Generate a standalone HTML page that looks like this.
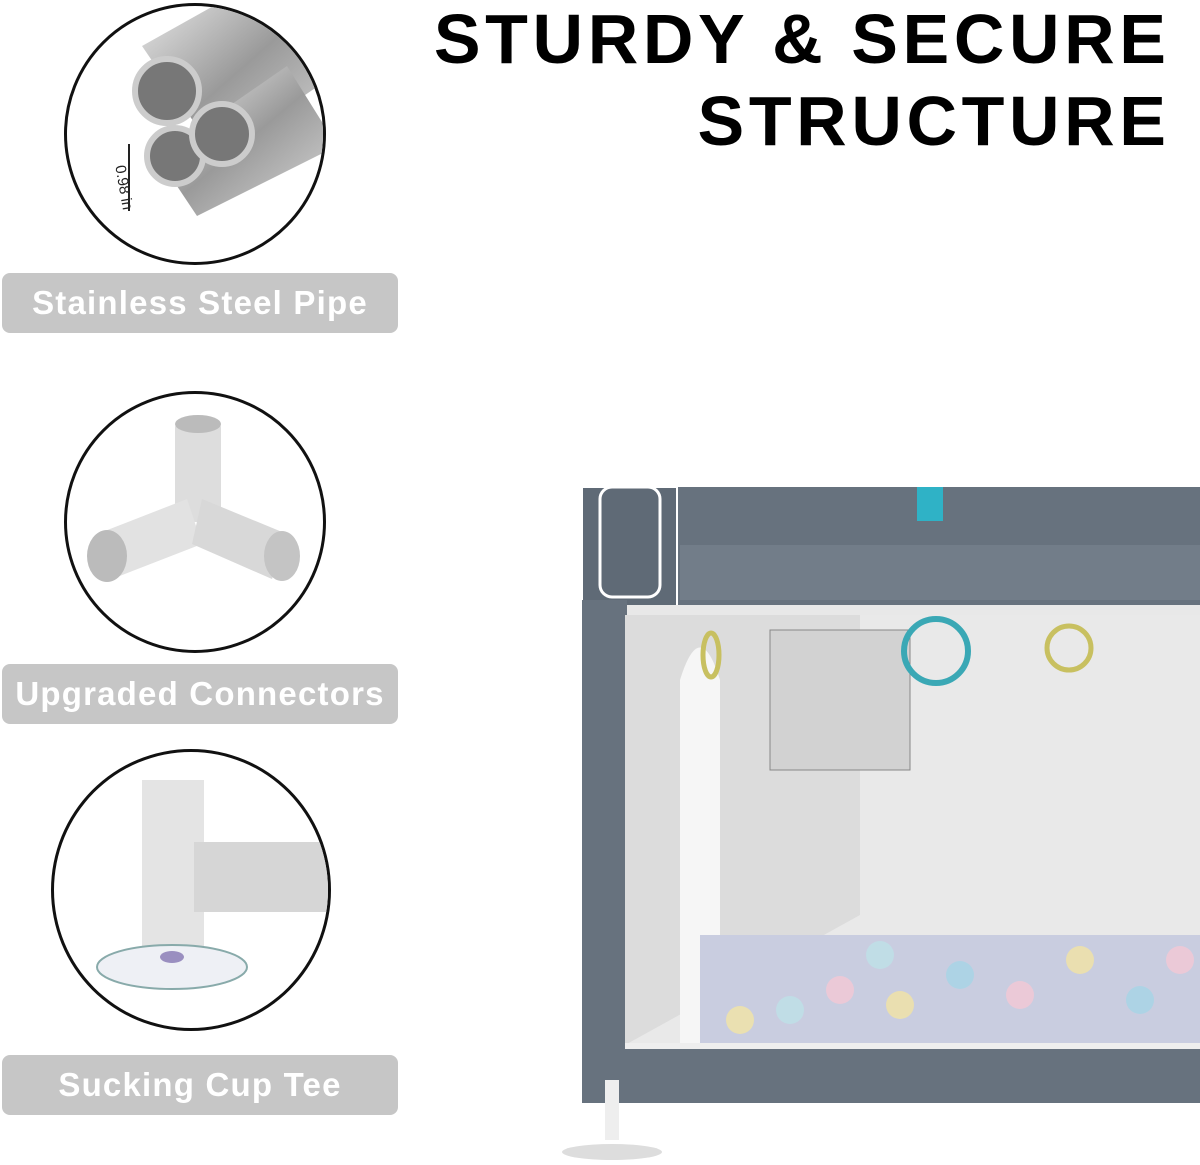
<!DOCTYPE html>
<html><head><meta charset="utf-8"><style>
html,body{margin:0;padding:0;background:#fff;}
body{width:1200px;height:1165px;position:relative;overflow:hidden;font-family:"Liberation Sans",Arial,sans-serif;}
.title{position:absolute;right:34px;font-weight:bold;font-size:70px;color:#000;line-height:1;letter-spacing:4.6px;margin-right:-4.6px;text-align:right;white-space:nowrap;}
.circ{position:absolute;border:3px solid #111;border-radius:50%;box-sizing:border-box;background:#fff;overflow:hidden;}
.lab{position:absolute;left:2px;width:396px;height:60px;background:#c6c6c6;border-radius:8px;color:#fff;font-weight:bold;font-size:33px;text-align:center;line-height:60px;letter-spacing:1.2px;white-space:nowrap;}
</style></head><body>
<div class="title" style="top:4px">STURDY &amp; SECURE</div>
<div class="title" style="top:86px">STRUCTURE</div>

<div class="circ" style="left:64px;top:3px;width:262px;height:262px">
<svg width="256" height="256" viewBox="0 0 256 256">
<defs><linearGradient id="g1" x1="0" y1="0" x2="1" y2="1"><stop offset="0" stop-color="#f2f2f2"/><stop offset=".5" stop-color="#9a9a9a"/><stop offset="1" stop-color="#dcdcdc"/></linearGradient></defs>
<path d="M75 40 L200 -30 L280 60 L150 150 Z" fill="url(#g1)"/>
<path d="M90 150 L220 60 L270 140 L130 210 Z" fill="url(#g1)"/>
<circle cx="100" cy="85" r="32" fill="#777" stroke="#ccc" stroke-width="6"/>
<circle cx="108" cy="150" r="28" fill="#777" stroke="#ccc" stroke-width="6"/>
<circle cx="155" cy="128" r="30" fill="#777" stroke="#ccc" stroke-width="6"/>
<line x1="62" y1="138" x2="62" y2="205" stroke="#222" stroke-width="2"/>
<text x="40" y="170" font-size="15" transform="rotate(80 50 170)" fill="#222">0.98 in</text>
</svg></div>
<div class="lab" style="top:273px">Stainless Steel Pipe</div>

<div class="circ" style="left:64px;top:391px;width:262px;height:262px">
<svg width="256" height="256" viewBox="0 0 256 256">
<rect x="108" y="28" width="46" height="100" rx="6" fill="#ddd"/>
<ellipse cx="131" cy="30" rx="23" ry="9" fill="#bbb"/>
<path d="M30 140 L120 105 L135 150 L45 185 Z" fill="#e2e2e2"/>
<path d="M135 105 L220 140 L205 185 L125 150 Z" fill="#d8d8d8"/>
<ellipse cx="40" cy="162" rx="20" ry="26" fill="#bbb"/>
<ellipse cx="215" cy="162" rx="18" ry="25" fill="#c4c4c4"/>
</svg></div>
<div class="lab" style="top:664px">Upgraded Connectors</div>

<div class="circ" style="left:51px;top:749px;width:280px;height:282px">
<svg width="274" height="276" viewBox="0 0 274 276">
<rect x="88" y="28" width="62" height="170" fill="#e4e4e4"/>
<rect x="140" y="90" width="140" height="70" fill="#d6d6d6"/>
<ellipse cx="118" cy="215" rx="75" ry="22" fill="#eef0f5" stroke="#8aa" stroke-width="2"/>
<ellipse cx="118" cy="205" rx="12" ry="6" fill="#9a8fc0"/>
</svg></div>
<div class="lab" style="top:1055px">Sucking Cup Tee</div>

<svg style="position:absolute;left:560px;top:480px" width="640" height="685" viewBox="560 480 640 685">
<rect x="582" y="487" width="620" height="125" fill="#67727e"/>
<rect x="680" y="545" width="520" height="55" fill="#727d89"/>
<rect x="582" y="487" width="95" height="125" fill="#5f6a76" stroke="#fff" stroke-width="2"/>
<rect x="600" y="487" width="60" height="110" rx="12" fill="none" stroke="#fff" stroke-width="3"/>
<rect x="917" y="487" width="26" height="34" fill="#2fb2c6"/>
<rect x="625" y="605" width="575" height="10" fill="#e8e8e8"/>
<rect x="582" y="600" width="45" height="460" fill="#67727e"/>
<rect x="625" y="615" width="575" height="430" fill="#e9e9e9"/>
<path d="M625 615 L860 615 L860 915 L625 1045 Z" fill="#dcdcdc"/>
<path d="M680 680 Q700 615 720 680 L720 1045 L680 1045 Z" fill="#f6f6f6"/>
<rect x="770" y="630" width="140" height="140" fill="#d2d2d2" stroke="#888"/>
<circle cx="936" cy="651" r="32" fill="none" stroke="#3aa8b5" stroke-width="6"/>
<circle cx="1069" cy="648" r="22" fill="none" stroke="#c8c060" stroke-width="5"/>
<ellipse cx="711" cy="655" rx="8" ry="22" fill="none" stroke="#c8c060" stroke-width="5"/>
<rect x="700" y="935" width="500" height="110" fill="#c9cde0"/>
<g opacity=".85">
<circle cx="740" cy="1020" r="14" fill="#f0e3a8"/><circle cx="790" cy="1010" r="14" fill="#bfe0e8"/>
<circle cx="840" cy="990" r="14" fill="#f1c9d6"/><circle cx="900" cy="1005" r="14" fill="#f0e3a8"/>
<circle cx="960" cy="975" r="14" fill="#a9d5e6"/><circle cx="1020" cy="995" r="14" fill="#f1c9d6"/>
<circle cx="1080" cy="960" r="14" fill="#f0e3a8"/><circle cx="1140" cy="1000" r="14" fill="#a9d5e6"/>
<circle cx="1180" cy="960" r="14" fill="#f1c9d6"/><circle cx="880" cy="955" r="14" fill="#bfe0e8"/>
</g>
<rect x="582" y="1045" width="620" height="58" fill="#67727e"/>
<rect x="625" y="1043" width="575" height="6" fill="#eee"/>
<rect x="605" y="1080" width="14" height="60" fill="#eee"/>
<ellipse cx="612" cy="1152" rx="50" ry="8" fill="#ddd"/>
</svg>
</body></html>
